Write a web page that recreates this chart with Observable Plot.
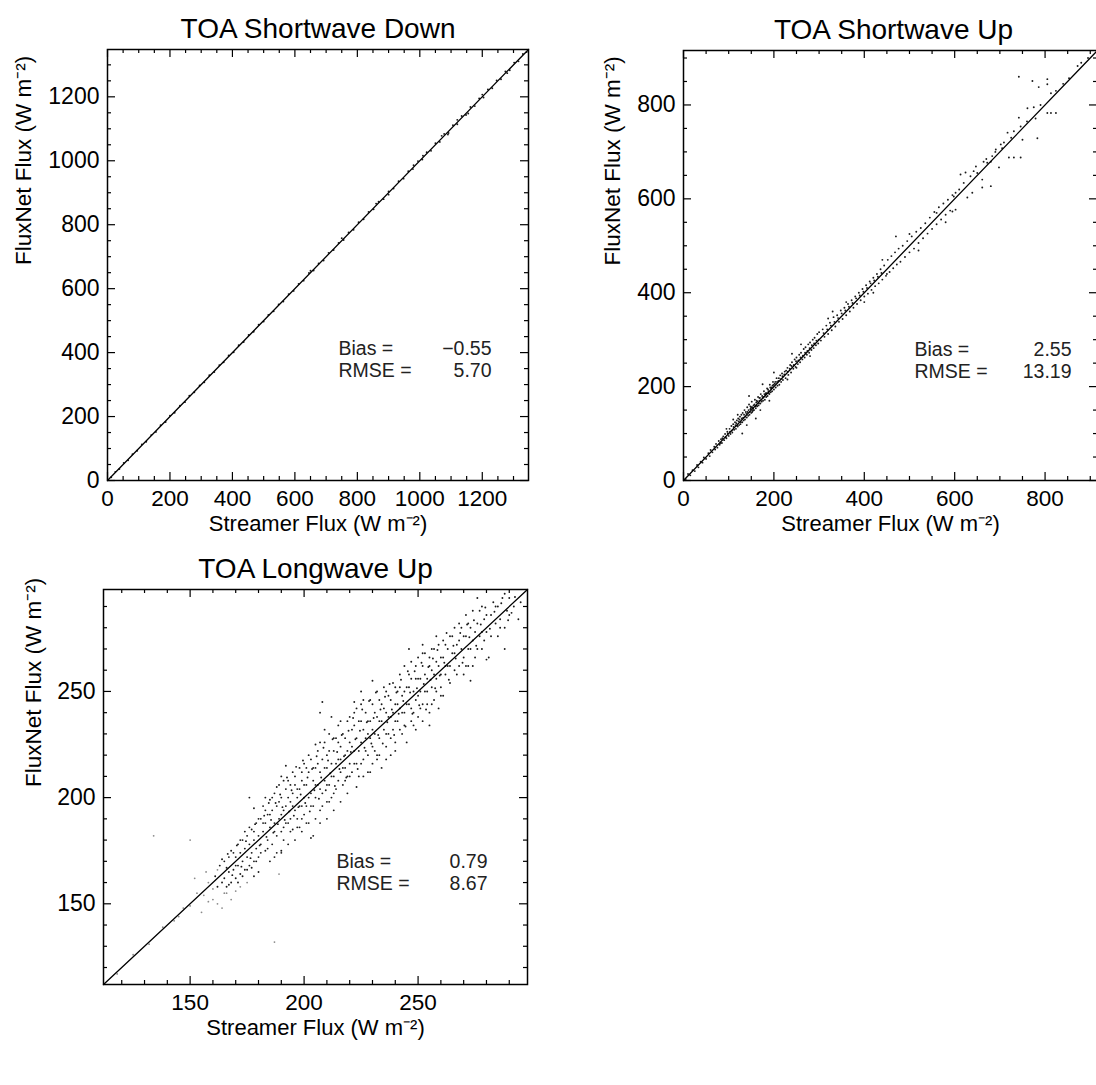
<!DOCTYPE html>
<html>
<head>
<meta charset="utf-8">
<script src="https://cdn.jsdelivr.net/npm/d3@7"></script>
<script src="https://cdn.jsdelivr.net/npm/@observablehq/plot@0.6"></script>
<style>
  html, body { margin: 0; padding: 0; background: white; overflow: hidden; }
  #chart { position: relative; width: 1096px; height: 1085px; overflow: hidden; background: white; }
  #chart svg { position: absolute; }
  g[aria-label="stats"] text { letter-spacing: 1.2px; }
</style>
</head>
<body>
<div id="chart"></div>
<script>
// ---------- tick labels / axis ranges ----------
const swDownRange = [0, 1348];
const swDownMajor = [0, 200, 400, 600, 800, 1000, 1200];
const swDownMinor = [50, 100, 150, 250, 300, 350, 450, 500, 550, 650, 700, 750, 850, 900, 950, 1050, 1100, 1150, 1250, 1300];

const swUpRange = [0, 916];
const swUpMajor = [0, 200, 400, 600, 800];
const swUpMinor = [50, 100, 150, 250, 300, 350, 450, 500, 550, 650, 700, 750, 850, 900];

const lwUpRange = [112, 298];
const lwUpMajor = [150, 200, 250];
const lwUpMinor = [120, 130, 140, 160, 170, 180, 190, 210, 220, 230, 240, 260, 270, 280, 290];

// ---------- text ----------
const titles = ["TOA Shortwave Down", "TOA Shortwave Up", "TOA Longwave Up"];
const xTitle = "Streamer Flux (W m\u207B\u00B2)";
const yTitle = "FluxNet Flux (W m\u207B\u00B2)";
const statLabels = ["Bias =", "RMSE ="];
const swDownStats = ["\u22120.55", "5.70"];
const swUpStats = ["2.55", "13.19"];
const lwUpStats = ["0.79", "8.67"];

// ---------- scatter data [Streamer, FluxNet] ----------
const swDownPoints = [[12,10],[25,27],[38,36],[52,55],[66,63],[80,82],[95,93],[110,113],[124,121],[140,142],[155,152],[170,173],[186,183],[200,203],[215,212],[232,234],[248,245],[262,265],[278,276],[295,297],[310,307],[326,329],[342,339],[358,361],[372,370],[388,391],[404,401],[420,423],[436,433],[452,455],[468,465],[484,487],[500,497],[515,518],[532,529],[548,551],[563,560],[580,583],[596,593],[612,615],[628,625],[645,649],[660,657],[676,679],[692,688],[708,712],[724,721],[740,743],[756,752],[772,776],[788,784],[804,808],[820,817],[836,840],[852,848],[868,872],[884,880],[900,904],[916,913],[932,936],[948,944],[963,967],[978,974],[994,999],[1008,1004],[1022,1027],[1036,1031],[1050,1055],[1064,1059],[1078,1084],[1092,1087],[1106,1111],[1120,1114],[1134,1140],[1148,1143],[1162,1168],[1176,1171],[1190,1195],[1204,1198],[1218,1223],[1232,1227],[1246,1251],[1260,1255],[1274,1279],[1288,1283],[1302,1307],[1316,1311],[1330,1334],[1342,1340],[1070,1078],[1090,1082],[1120,1128],[1155,1148],[750,758],[900,894],[650,656],[1010,1016],[980,986],[860,866],[1200,1207],[1280,1274]];

const swUpPoints = [[5,3],[10,14],[15,11],[20,22],[25,20],[30,33],[33,28],[38,40],[42,38],[45,49],[50,46],[55,58],[58,52],[60,65],[64,60],[68,72],[70,66],[72,78],[75,70],[78,84],[80,76],[83,88],[85,80],[88,94],[90,86],[92,99],[95,90],[97,104],[100,95],[102,110],[104,99],[106,116],[108,102],[110,120],
[112,108],[114,124],[116,110],[118,128],[120,115],[121,132],[123,118],[125,136],[126,120],[128,140],[130,124],[131,144],[133,128],[135,150],[136,130],[138,146],[140,134],[141,156],[143,138],[145,162],[146,140],[148,152],[150,144],[151,168],[153,148],[155,160],[156,150],[158,172],[160,154],[161,166],[163,158],[165,178],[166,160],[168,170],[170,164],[171,184],[173,168],[175,176],[176,170],[178,190],[180,172],[181,182],[183,178],[185,196],[186,180],[188,190],[190,184],[191,204],[193,188],[195,198],[196,190],[198,210],[200,194],[202,206],[204,198],[206,218],[208,202],[210,212],[212,204],[214,224],
[130,100],[160,132],[145,180],[120,140],[175,205],[190,170],[110,130],[200,230],[170,150],[95,110],[140,118],[150,156],[155,150],[162,170],[168,176],[148,158],[152,146],
[82,80],[86,90],[93,92],[98,100],[103,104],[107,106],[111,114],[115,118],[117,122],[119,116],[122,126],[124,130],[127,124],[129,132],[132,134],[134,140],[137,136],[139,142],[142,146],[144,150],[147,146],[149,154],[152,156],[154,154],[157,162],[159,158],[162,160],[164,168],[167,164],[169,176],[172,172],[174,180],[177,178],[179,184],[182,186],[184,186],[187,194],[189,186],[192,198],[194,196],[197,202],[199,204],[203,210],[207,210],[211,218],[215,216],[219,222],[223,226],[227,234],[231,232],[235,238],[239,244],[244,246],[249,254],[254,256],[259,262],[264,266],[269,272],[274,276],[279,282],[284,288],[289,292],[294,298],[299,300],
[216,210],[218,228],[220,214],[224,232],[226,218],[230,240],[232,225],[236,246],[238,230],[240,252],[243,238],[246,258],[248,242],[250,262],[253,248],[256,268],[258,252],[260,272],[263,258],[266,280],[268,262],[270,284],[273,268],[276,290],[278,272],[280,294],[283,278],[286,300],[288,282],[290,304],[293,288],[296,312],[298,292],[300,316],[240,270],[260,290],[280,265],[230,215],[250,240],
[304,298],[308,322],[312,306],[316,330],[320,312],[324,336],[328,320],[332,348],[336,328],[340,352],[344,338],[348,362],[352,344],[356,368],[360,352],[364,376],[368,360],[372,384],[376,368],[380,392],[384,376],[388,400],[392,384],[396,408],[400,392],[404,416],[408,398],[412,424],[416,406],[420,432],[424,414],[428,440],[432,420],[436,450],[440,428],[444,458],[448,436],[320,345],[330,360],[360,380],[400,380],[420,400],[440,470],[450,440],
[310,314],[318,322],[326,330],[334,338],[342,346],[350,356],[358,362],[366,370],[374,378],[382,388],[390,394],[398,402],[406,410],[414,420],[422,426],[430,434],[438,442],
[452,470],[456,444],[460,478],[464,452],[468,486],[472,460],[476,494],[480,466],[485,500],[490,476],[495,510],[500,486],[505,520],[510,494],[515,530],[520,506],[525,538],[530,516],[535,548],[540,526],[545,560],[550,536],[555,572],[560,546],[565,582],[570,556],[575,590],[580,566],[585,598],[590,575],[595,608],[470,520],[500,525],[520,490],[560,570],[580,550],
[602,613],[598,605],[628,603],[602,577],[595,573],[613,652],[624,656],[635,648],[661,641],[620,634],[639,613],[647,669],[642,659],[664,679],[672,677],[680,679],[680,627],[661,624],[698,667],[683,691],[691,705],[702,716],[709,720],[717,741],[731,744],[720,688],[731,688],[746,688],[750,726],[742,773],[746,754],[761,793],[775,795],[779,771],[783,729],[805,783],[813,783],[824,783],[742,860],[772,851],[786,838],[805,855],[805,844],[813,825],[824,830],[853,857],[872,883],
[610,620],[650,655],[670,685],[690,700],[705,708],[725,730],[760,765],[790,800],[840,845],[880,890],[895,900]];

const lwUpLight = [[118,117],[125,126],[132,131],[138,139],[143,142],[147,148],[150,149],[153,155],[156,154],[158,160],[160,157],[134,182],[150,180],[152,162],[155,146],[160,152],[157,165],[162,150],[165,155],[168,152],[170,156],[164,148],[166,155],[172,158],[175,160],[187,132],[189,164],[162,166],[158,151],[145,144]];

const lwUpPoints = [[161,163],[162,158],[163,168],[164,160],[165,170],[165,162],[166,158],[167,172],[167,165],[168,160],[168,175],[169,166],[170,162],[170,172],[171,178],[171,168],[172,164],[172,174],[173,180],[173,170],[174,166],[174,176],[175,182],[175,172],[176,168],[176,178],[177,185],[177,174],[178,170],[178,180],[179,188],[179,176],[180,172],[180,182],[178,163],[178,195],[176,200],[180,165],
[181,190],[181,178],[182,184],[182,196],[183,175],[183,188],[184,192],[184,180],[185,199],[185,186],[186,178],[186,194],[187,202],[187,188],[188,182],[188,196],[189,206],[189,190],[190,184],[190,200],[190,210],[191,194],[191,186],[192,204],[192,196],[193,188],[193,208],[194,198],[194,190],[195,212],[195,202],[195,185],[196,194],[196,206],[197,200],[197,190],[198,214],[198,204],[198,186],[199,196],[199,208],[200,200],[200,192],[200,216],[187,172],[190,175],[193,178],[196,180],[199,184],[190,174],[185,170],[192,215],[188,205],[183,200],
[201,206],[201,196],[202,212],[202,188],[203,202],[203,218],[204,208],[204,196],[205,214],[205,200],[206,222],[206,206],[207,194],[207,212],[208,218],[208,202],[209,226],[209,208],[210,198],[210,214],[210,220],[211,206],[211,230],[212,216],[212,200],[213,222],[213,210],[214,228],[214,204],[215,218],[215,234],[216,212],[216,224],[217,206],[217,230],[218,220],[218,214],[219,236],[219,210],[220,226],[220,216],[204,182],[207,188],[210,190],[213,194],[216,198],[219,202],[208,245],[207,240],[203,181],[205,225],[212,238],
[221,232],[221,212],[222,222],[222,240],[223,216],[223,228],[224,236],[224,210],[225,226],[225,244],[226,218],[226,232],[227,240],[227,222],[228,212],[228,230],[229,246],[229,236],[230,224],[230,216],[231,240],[231,230],[232,250],[232,220],[233,236],[233,228],[234,244],[234,214],[235,232],[235,252],[236,224],[236,240],[237,248],[237,230],[238,220],[238,238],[239,254],[239,232],[240,244],[240,226],[223,205],[226,210],[229,212],[232,218],[236,218],[240,222],[225,250],[230,255],[222,245],
[241,250],[241,236],[242,258],[242,242],[243,230],[243,248],[244,262],[244,240],[245,226],[245,252],[246,244],[246,258],[247,236],[247,264],[248,250],[248,240],[249,256],[249,232],[250,248],[250,266],[251,242],[251,256],[252,262],[252,236],[253,250],[253,268],[254,244],[254,256],[255,262],[255,240],[256,252],[256,270],[257,246],[257,258],[258,264],[258,250],[259,272],[259,242],[260,258],[260,252],[246,270],[252,272],[258,276],[255,234],[250,238],
[261,266],[261,248],[262,272],[262,258],[263,262],[264,276],[264,254],[265,268],[266,260],[266,280],[267,272],[268,262],[268,282],[269,270],[270,276],[270,258],[271,286],[272,270],[272,262],[273,280],[274,274],[274,288],[275,266],[276,282],[277,276],[278,290],[278,270],[279,284],[280,278],[271,262],[276,294],[280,265],[273,255],
[281,266],[282,286],[283,292],[284,282],[285,290],[286,284],[287,294],[288,280],[289,288],[290,294],[291,287],[292,290],[294,284],[295,292],[288,270],[285,276],[288,296],
[164,171],[166,167],[167,159],[169,174],[170,168],[171,160],[172,180],[173,163],[174,184],[175,166],[176,186],[177,167],[178,184],[179,170],[180,190],[181,174],[182,188],[183,194],[184,176],[185,192],[186,200],[187,184],[188,174],[189,198],[190,192],[191,208],[191,180],[192,188],[193,200],[194,206],[194,184],[195,196],[196,210],[197,186],[197,204],[198,196],[199,212],[199,190],[200,206],[201,214],[201,188],[202,200],[202,220],[203,196],[204,214],[205,206],[205,190],[206,216],[207,204],[207,226],[208,196],[209,214],[209,232],[210,206],[211,222],[211,198],[212,210],[213,228],[213,202],[214,216],[215,226],[215,208],[216,236],[216,218],[217,214],[218,228],[218,208],[219,222],[220,238],[220,210],[221,224],[222,216],[222,234],[223,242],[224,222],[225,216],[225,236],[226,246],[227,228],[228,236],[228,220],[229,228],[230,244],[230,232],[231,222],[232,238],[233,246],[233,220],[234,236],[235,242],[236,230],[236,250],[237,238],[238,246],[238,228],[239,240],[240,252],[240,236],[241,244],[242,232],[242,252],[243,240],[244,250],[244,234],[245,244],[246,252],[247,242],[247,256],[248,234],[249,262],[249,246],[250,256],[251,250],[252,244],[252,268],[253,258],[254,250],[255,266],[256,244],[256,260],[257,270],[258,256],[259,262],[260,248],[260,266],[261,274],[262,262],[263,270],[264,262],[265,276],[266,268],[267,258],[268,274],[269,280],[270,266],[271,276],[272,282],[273,270],[274,262],[275,278],[276,270],[277,288],[278,278],[279,274],[280,286],[282,276],[284,290],[286,280],[290,286],
[166.5,173.5],[168.5,163.5],[170.5,177.5],[172.5,167.5],[174.5,179.5],[176.5,171.5],[178.5,187.5],[180.5,177.5],[182.5,191.5],[183.5,181.5],[184.5,197.5],[185.5,189.5],[186.5,183.5],[187.5,197.5],[188.5,187.5],[189.5,201.5],[190.5,195.5],[191.5,189.5],[192.5,209.5],[193.5,193.5],[194.5,203.5],[195.5,191.5],[196.5,214.5],[197.5,195.5],[198.5,201.5],[199.5,217.5],[200.5,197.5],[201.5,209.5],[202.5,193.5],[203.5,213.5],[204.5,203.5],[205.5,219.5],[206.5,199.5],[207.5,209.5],[208.5,223.5],[209.5,203.5],[210.5,217.5],[211.5,211.5],[212.5,227.5],[213.5,205.5],[214.5,221.5],[215.5,213.5],[216.5,229.5],[217.5,219.5],[218.5,209.5],[219.5,231.5],[220.5,221.5],[221.5,237.5],[222.5,227.5],[223.5,213.5],[224.5,231.5],[225.5,241.5],[226.5,223.5],[227.5,235.5],[228.5,245.5],[229.5,225.5],[230.5,237.5],[231.5,249.5],[232.5,229.5],[233.5,241.5],[234.5,225.5],[235.5,247.5],[236.5,235.5],[237.5,253.5],[238.5,241.5],[239.5,229.5],[240.5,249.5],[241.5,239.5],[242.5,255.5],[243.5,245.5],[244.5,233.5],[245.5,259.5],[246.5,249.5],[247.5,239.5],[248.5,259.5],[249.5,251.5],[250.5,243.5],[251.5,263.5],[252.5,253.5],[253.5,241.5],[254.5,261.5],[255.5,255.5],[256.5,265.5],[257.5,251.5],[258.5,269.5],[259.5,257.5],[261.5,263.5],[262.5,277.5],[263.5,255.5],[265.5,271.5],[266.5,265.5],[268.5,277.5],[269.5,263.5],[271.5,281.5],[272.5,275.5],[274.5,283.5],[275.5,271.5],[277.5,281.5],[279.5,289.5],[281.5,279.5],[283.5,287.5],[286.5,291.5],[289.5,283.5],[292.5,294.5]];

// ---------- drawing ----------
const FONT = "'Liberation Sans', Arial, Helvetica, sans-serif";
const container = document.getElementById("chart");

function panel(cfg) {
  const {left, top, mL, mT, mR, mB, fw, fh, range, major, minor, title, titleDx, yTitleDx,
         points, light, stats, statX, statY, valX, lineH} = cfg;
  const ticks = (vals, len) => [
    Plot.ruleX(vals, {x: d => d, insetTop: fh - len, stroke: "black", strokeWidth: 1.2}),
    Plot.ruleX(vals, {x: d => d, insetBottom: fh - len, stroke: "black", strokeWidth: 1.2}),
    Plot.ruleY(vals, {y: d => d, insetRight: fw - len, stroke: "black", strokeWidth: 1.2}),
    Plot.ruleY(vals, {y: d => d, insetLeft: fw - len, stroke: "black", strokeWidth: 1.2})
  ];
  const diag = range.map(v => [v, v]);
  const svg = Plot.plot({
    width: mL + fw + mR,
    height: mT + fh + mB,
    marginLeft: mL, marginTop: mT, marginRight: mR, marginBottom: mB,
    x: {domain: range, axis: null},
    y: {domain: range, axis: null},
    style: {background: "none", fontFamily: FONT, overflow: "visible"},
    marks: [
      light ? Plot.dot(light, {x: d => d[0], y: d => d[1], r: 0.9, fill: "#8a8a8a", stroke: "none"}) : null,
      Plot.dot(points, {x: d => d[0], y: d => d[1], r: 0.95, fill: "#1a1a1a", stroke: "none"}),
      Plot.line(diag, {x: d => d[0], y: d => d[1], stroke: "black", strokeWidth: 1.3}),
      Plot.frame({stroke: "black", strokeWidth: 1.5}),
      ...ticks(major, 8),
      ...ticks(minor, 4),
      Plot.text(major, {x: d => d, text: d => String(d), frameAnchor: "bottom", dy: 10, lineAnchor: "top", fontSize: 22.5, fill: "black"}),
      Plot.text(major, {y: d => d, text: d => String(d), frameAnchor: "left", dx: -8, textAnchor: "end", fontSize: 23, fill: "black"}),
      Plot.text([xTitle], {text: d => d, frameAnchor: "bottom", dy: 50, fontSize: 22, fill: "black"}),
      Plot.text([yTitle], {text: d => d, frameAnchor: "left", dx: yTitleDx, rotate: -90, fontSize: 22.5, fill: "black"}),
      Plot.text([title], {text: d => d, frameAnchor: "top", dx: titleDx, dy: -12, lineAnchor: "bottom", fontSize: 28, fill: "black"}),
      Plot.text([statLabels.join("\n")], {text: d => d, frameAnchor: "top-left", dx: statX, dy: statY, textAnchor: "start", lineAnchor: "top", lineHeight: lineH, fontSize: 19.5, fill: "#222", ariaLabel: "stats"}),
      Plot.text([stats.join("\n")], {text: d => d, frameAnchor: "top-left", dx: valX, dy: statY, textAnchor: "end", lineAnchor: "top", lineHeight: lineH, fontSize: 19.5, fill: "#222", ariaLabel: "stats"})
    ]
  });
  svg.style.left = left + "px";
  svg.style.top = top + "px";
  container.appendChild(svg);
}

panel({left: 0, top: 0, mL: 107, mT: 49, mR: 12, mB: 80, fw: 421, fh: 431,
  range: swDownRange, major: swDownMajor, minor: swDownMinor,
  title: titles[0], titleDx: 0, yTitleDx: -84,
  points: swDownPoints, light: null, stats: swDownStats,
  statX: 231, statY: 289, valX: 384, lineH: 1.16});

panel({left: 583, top: 0, mL: 100, mT: 50, mR: 4, mB: 80, fw: 414, fh: 430,
  range: swUpRange, major: swUpMajor, minor: swUpMinor,
  title: titles[1], titleDx: 3, yTitleDx: -71,
  points: swUpPoints, light: null, stats: swUpStats,
  statX: 231, statY: 289, valX: 388, lineH: 1.16});

panel({left: 0, top: 540, mL: 103, mT: 49, mR: 12, mB: 80, fw: 424, fh: 395,
  range: lwUpRange, major: lwUpMajor, minor: lwUpMinor,
  title: titles[2], titleDx: 0, yTitleDx: -70,
  points: lwUpPoints, light: lwUpLight, stats: lwUpStats,
  statX: 233, statY: 262, valX: 384, lineH: 1.16});
</script>
</body>
</html>
